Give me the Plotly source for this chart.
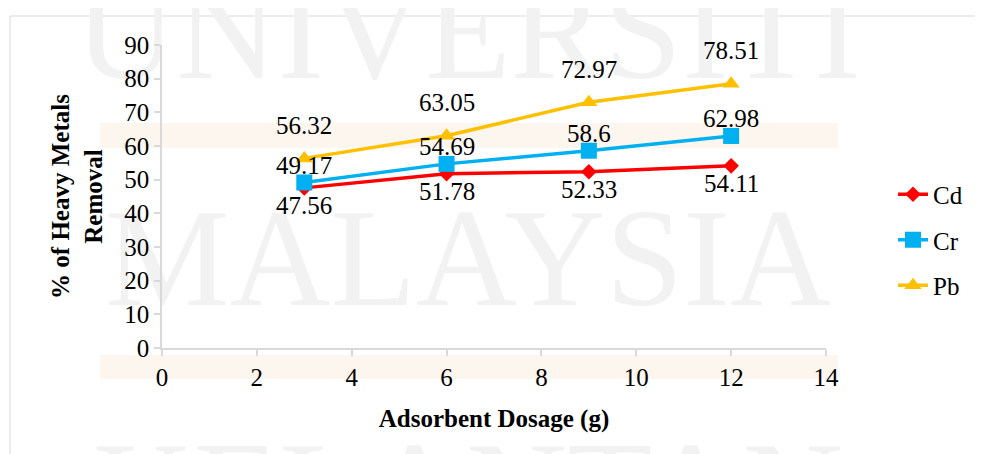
import plotly.graph_objects as go

# ---- data ----
dosage = [3, 6, 9, 12]
cd_removal = [47.56, 51.78, 52.33, 54.11]
cr_removal = [49.17, 54.69, 58.6, 62.98]
pb_removal = [56.32, 63.05, 72.97, 78.51]
series_names = ["Cd", "Cr", "Pb"]
x_ticks = [0, 2, 4, 6, 8, 10, 12, 14]
y_ticks = [0, 10, 20, 30, 40, 50, 60, 70, 80, 90]

# ---- layout geometry (window pixels; page body has an 8px margin) ----
OFF = 8
W, H = 983 - OFF, 454 - OFF
L, R, T, B = 162, 826, 45, 348  # plot area in window pixels


def px(xp):
    return (xp - L) / (R - L)


def py(yp):
    return (B - yp) / (B - T)


SERIF = "Liberation Serif, Times New Roman, serif"
colors = ["#FF0000", "#00B0F0", "#FFC000"]
symbols = ["diamond", "square", "triangle-up"]
msizes = [12, 16, 15]
label_shift = [-18, 17, 33]
values = [cd_removal, cr_removal, pb_removal]

fig = go.Figure()
for i, name in enumerate(series_names):
    fig.add_trace(go.Scatter(
        x=dosage, y=values[i], name=name, mode="lines+markers",
        line=dict(color=colors[i], width=3.5),
        marker=dict(symbol=symbols[i], size=msizes[i], color=colors[i]),
        legendgroup=name,
    ))

annotations = []
for i, name in enumerate(series_names):
    for xv, yv in zip(dosage, values[i]):
        annotations.append(dict(
            x=xv, y=yv, xref="x", yref="y", text=f"{yv:g}", showarrow=False,
            yshift=label_shift[i], font=dict(family=SERIF, size=25, color="black"),
            xanchor="center", yanchor="middle",
        ))

shapes = []
# outer chart frame
shapes.append(dict(type="rect", xref="paper", yref="paper",
                   x0=px(10), x1=px(1010), y0=py(480), y1=py(16),
                   line=dict(color="#d9d9d9", width=1), fillcolor="rgba(0,0,0,0)",
                   layer="below"))
# faint peach bands of the watermark
for (y0p, y1p) in [(123, 148), (355, 379)]:
    shapes.append(dict(type="rect", xref="paper", yref="paper",
                       x0=px(100), x1=px(838), y0=py(y1p), y1=py(y0p),
                       line=dict(width=0), fillcolor="#fdf6ef", layer="below"))
# watermark words
for word, ytop, ybot in [("UNIVERSITI", -30, 60), ("MALAYSIA", 197, 287), ("KELANTAN", 430, 520)]:
    shapes.append(dict(type="rect", xref="paper", yref="paper",
                       x0=px(98), x1=px(838), y0=py(ybot), y1=py(ytop),
                       line=dict(width=0), fillcolor="rgba(0,0,0,0)", layer="below",
                       label=dict(text=word, textposition="middle center", padding=0,
                                  font=dict(family=SERIF, size=140, color="#f2f2f2"))))

fig.update_layout(
    width=W, height=H,
    margin=dict(l=L - OFF, r=983 - R, t=T - OFF, b=454 - B, pad=0),
    paper_bgcolor="white", plot_bgcolor="rgba(0,0,0,0)",
    font=dict(family=SERIF, color="black"),
    showlegend=True,
    legend=dict(x=px(893), y=py(240), xanchor="left", yanchor="middle",
                font=dict(family=SERIF, size=25, color="black"),
                tracegroupgap=10, bgcolor="rgba(0,0,0,0)"),
    annotations=annotations,
    shapes=shapes,
)
fig.update_xaxes(
    range=[0, 14], tickvals=x_ticks, ticktext=[str(v) for v in x_ticks],
    showgrid=False, zeroline=False, showline=True, linecolor="#d9d9d9", linewidth=1.5,
    ticks="outside", ticklen=6, tickcolor="#d9d9d9", tickwidth=1.5,
    tickfont=dict(family=SERIF, size=25, color="black"),
    title=dict(text="<b>Adsorbent Dosage (g)</b>", font=dict(family=SERIF, size=25, color="black"), standoff=20),
)
fig.update_yaxes(
    range=[0, 90], tickvals=y_ticks, ticktext=[str(v) for v in y_ticks],
    showgrid=False, zeroline=False, showline=True, linecolor="#d9d9d9", linewidth=1.5,
    ticks="outside", ticklen=6, tickcolor="#d9d9d9", tickwidth=1.5,
    tickfont=dict(family=SERIF, size=25, color="black"),
    title=dict(text="<b>% of Heavy Metals<br>Removal</b>", font=dict(family=SERIF, size=25, color="black"), standoff=15),
)

fig.write_html("out.html")
